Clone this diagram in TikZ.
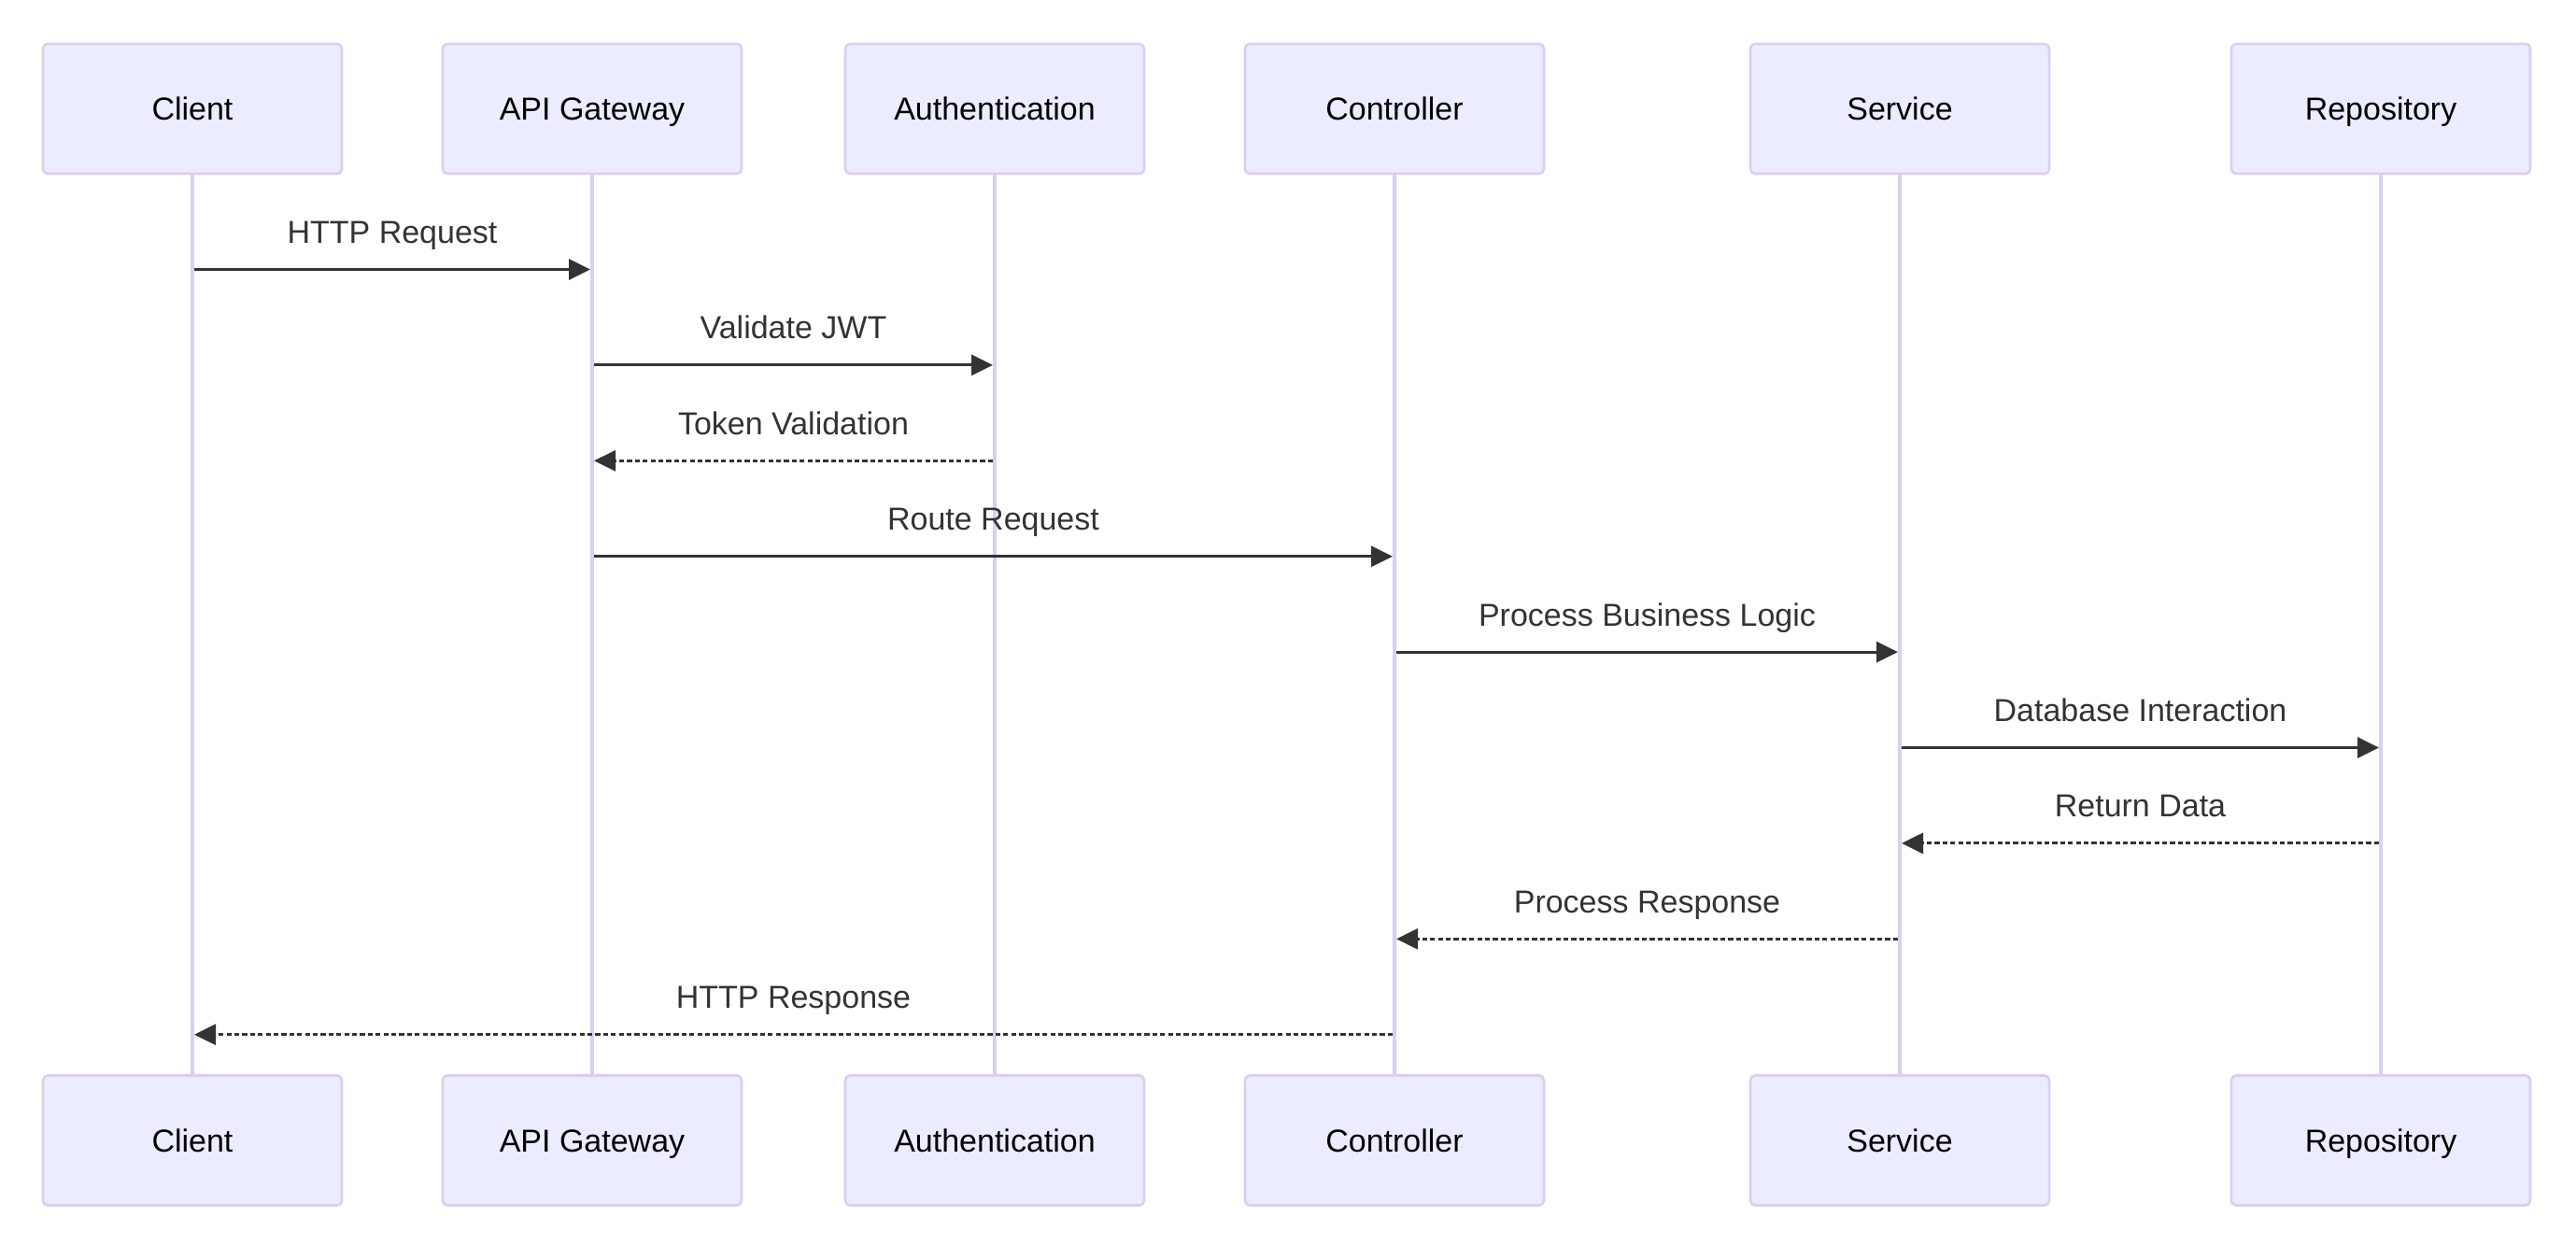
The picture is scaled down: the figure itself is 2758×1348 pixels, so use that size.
\documentclass[tikz,border=0pt]{standalone}
\usepackage{fontspec}
\setmainfont{Liberation Sans}
\usetikzlibrary{arrows.meta}

\definecolor{actorfill}{HTML}{ECECFF}
\definecolor{actorline}{HTML}{DACEF3}
\definecolor{msgcolor}{HTML}{333333}

\begin{document}
\begin{tikzpicture}[
    x=0.5pt, y=-0.5pt,
    actor/.style={rectangle, draw=actorline, line width=1.3pt, rounded corners=2.5pt, fill=actorfill, minimum width=160pt, minimum height=69.5pt, inner sep=0pt, text height=12.2pt, text depth=0pt, font=\fontsize{17}{20}\selectfont},
    lifeline/.style={draw=actorline, line width=1.8pt},
    msg/.style={draw=msgcolor, line width=1.5pt, -{Triangle[length=11.5pt, width=11pt]}, shorten <=1pt, shorten >=1pt},
    reply/.style={msg, dash pattern=on 2.6pt off 1.6pt},
    msglabel/.style={anchor=base, yshift=14pt, text=msgcolor, font=\fontsize{17}{20}\selectfont}
]
\useasboundingbox (0,0) rectangle (2758,1348);

% Actors (top)
\node[actor] (client) at (206,116.5) {Client};
\node[actor] (gateway) at (634,116.5) {API Gateway};
\node[actor] (auth) at (1065,116.5) {Authentication};
\node[actor] (controller) at (1493,116.5) {Controller};
\node[actor] (service) at (2034,116.5) {Service};
\node[actor] (repo) at (2549,116.5) {Repository};

% Actors (bottom)
\node[actor] (client2) at (206,1221) {Client};
\node[actor] (gateway2) at (634,1221) {API Gateway};
\node[actor] (auth2) at (1065,1221) {Authentication};
\node[actor] (controller2) at (1493,1221) {Controller};
\node[actor] (service2) at (2034,1221) {Service};
\node[actor] (repo2) at (2549,1221) {Repository};

% Lifelines
\foreach \n in {client,gateway,auth,controller,service,repo}
    \draw[lifeline] (\n) -- (\n2);

% Message rows
\foreach \i in {1,...,9}
    \coordinate (m\i) at (0,{288.5+102.4*(\i-1)});

% Messages
\draw[msg] (client |- m1) -- (gateway |- m1) node[msglabel, midway] {HTTP Request};
\draw[msg] (gateway |- m2) -- (auth |- m2) node[msglabel, midway] {Validate JWT};
\draw[reply] (auth |- m3) -- (gateway |- m3) node[msglabel, midway] {Token Validation};
\draw[msg] (gateway |- m4) -- (controller |- m4) node[msglabel, midway] {Route Request};
\draw[msg] (controller |- m5) -- (service |- m5) node[msglabel, midway] {Process Business Logic};
\draw[msg] (service |- m6) -- (repo |- m6) node[msglabel, midway] {Database Interaction};
\draw[reply] (repo |- m7) -- (service |- m7) node[msglabel, midway] {Return Data};
\draw[reply] (service |- m8) -- (controller |- m8) node[msglabel, midway] {Process Response};
\draw[reply] (controller |- m9) -- (client |- m9) node[msglabel, midway] {HTTP Response};

\end{tikzpicture}
\end{document}
